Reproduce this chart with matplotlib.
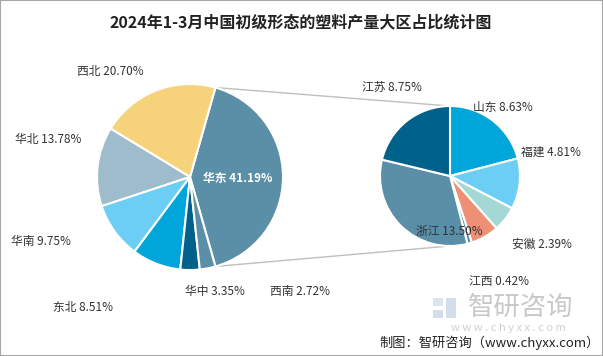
import numpy as np
import matplotlib
matplotlib.use("Agg")
import matplotlib.pyplot as plt
from matplotlib.patches import Rectangle

plt.rcParams['font.family'] = ['Noto Sans CJK SC', 'DejaVu Sans']

# 主饼：各大区占比 (%)
regions = ['华东', '西北', '华北', '华南', '东北', '华中', '西南']
region_share = [41.19, 20.70, 13.78, 9.75, 8.51, 3.35, 2.72]
region_colors = ['#5B8FA8', '#F6D37B', '#9EBCCB', '#6DCEF5', '#00A5DA', '#00618A', '#5B8FA8']

# 子饼：华东各省占比 (%)，“其他”在原图中无标签
provinces = ['山东', '福建', '安徽', '其他', '江西', '浙江', '江苏']
province_share = [8.63, 4.81, 2.39, 2.69, 0.42, 13.50, 8.75]
province_colors = ['#00A5DA', '#6DCEF5', '#A4D8D5', '#EF8F76', '#5B8FA8', '#5B8FA8', '#00618A']

W, H = 603, 356
fig = plt.figure(figsize=(W / 100, H / 100), dpi=100)
ax = fig.add_axes([0, 0, 1, 1])

def py(y):
    # 像素坐标(自上而下) -> 数据坐标
    return H - y

big_c, big_r = (190, py(177)), 93
small_c, small_r = (450, py(176)), 70

half = region_share[0] * 3.6 / 2
ax.pie(region_share, colors=region_colors, startangle=-half, counterclock=True,
       center=big_c, radius=big_r,
       wedgeprops=dict(edgecolor='white', linewidth=1.5))
ax.pie(province_share, colors=province_colors, startangle=90, counterclock=False,
       center=small_c, radius=small_r,
       wedgeprops=dict(edgecolor='white', linewidth=1.5))

# 连接线
for sgn in (1, -1):
    a = np.deg2rad(sgn * half)
    x0 = big_c[0] + big_r * np.cos(a)
    y0 = big_c[1] + big_r * np.sin(a)
    x1 = small_c[0]
    y1 = small_c[1] + sgn * small_r
    ax.plot([x0, x1], [y0, y1], color='#BFBFBF', lw=1, zorder=0)

txt = '#333333'
fs = 8.5
big_labels = [
    ('西北 20.70%', 110, 71, txt),
    ('华北 13.78%', 48, 140, txt),
    ('华南 9.75%', 41, 242, txt),
    ('东北 8.51%', 83, 307, txt),
    ('华中 3.35%', 215, 291, txt),
    ('西南 2.72%', 300, 292, txt),
]
ax.text(238, py(178), '华东 41.19%', ha='center', va='center', fontsize=fs,
        color='white', fontweight='bold')
for s, x, y, c in big_labels:
    ax.text(x, py(y), s, ha='center', va='center', fontsize=fs, color=c)

small_labels = [
    ('江苏 8.75%', 392, 87),
    ('山东 8.63%', 503, 108),
    ('福建 4.81%', 551, 152),
    ('安徽 2.39%', 542, 244),
    ('江西 0.42%', 499, 281),
    ('浙江 13.50%', 449, 231),
]
for s, x, y in small_labels:
    ax.text(x, py(y), s, ha='center', va='center', fontsize=fs, color=txt)

# 标题
ax.text(301, py(22), '2024年1-3月中国初级形态的塑料产量大区占比统计图',
        ha='center', va='center', fontsize=11.5, fontweight='bold', color='#222222')

# 水印
ax.add_patch(Rectangle((433, py(318)), 10, 8, color='#B8C8DC', alpha=0.6, lw=0))
ax.add_patch(Rectangle((433, py(306)), 10, 8, color='#C9D3E0', alpha=0.6, lw=0))
ax.add_patch(Rectangle((446, py(318)), 10, 20, color='#B8C8DC', alpha=0.6, lw=0))
ax.text(521, py(307), '智研咨询', ha='center', va='center', fontsize=19,
        color='#C8C8C8')
ax.text(508, py(328), 'w w w . c h y x x . c o m', ha='center', va='center',
        fontsize=8, color='#CFCFCF')

# 来源
ax.text(490, py(343), '制图：智研咨询（www.chyxx.com）', ha='center', va='center',
        fontsize=9.5, color='#222222')

ax.set_xlim(0, W)
ax.set_ylim(0, H)
ax.set_aspect('auto')
ax.axis('off')

fig.add_artist(Rectangle((0, 0), 1, 1, transform=fig.transFigure, fill=False,
                         edgecolor='#A6A6A6', lw=1.5))

fig.savefig('out.png', dpi=100)
